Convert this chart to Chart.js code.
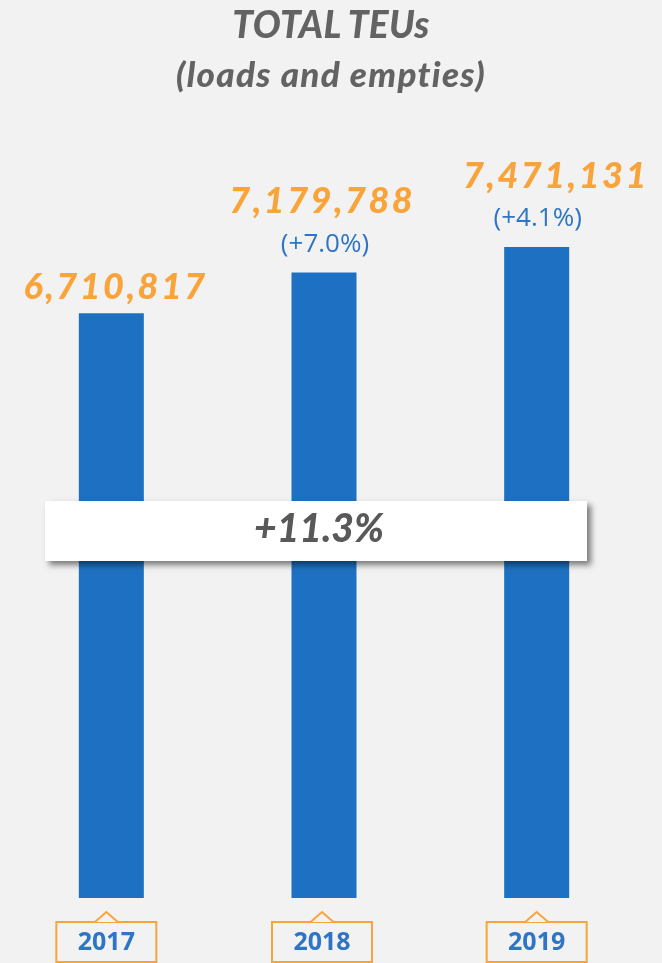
<!DOCTYPE html>
<html>
<head>
<meta charset="utf-8">
<script src="https://cdn.jsdelivr.net/npm/chart.js@4"></script>
<style>
  html, body { margin:0; padding:0; background:#f2f2f2; }
  #wrap { position:relative; width:662px; height:963px; overflow:hidden; }
  canvas { position:absolute; left:0; top:0; }
  .t1, .t2 { position:absolute; left:0; width:662px; text-align:center; color:#636363;
    font-family:Lato, 'Open Sans', sans-serif; font-weight:900; font-style:italic; white-space:nowrap; }
  .t1 { top:2px; font-size:37px; line-height:44px; letter-spacing:0.3px; }
  .t2 { top:53px; font-size:35px; line-height:40px; letter-spacing:1.3px; }
</style>
</head>
<body>
<div id="wrap">
  <canvas id="c" width="662" height="963"></canvas>
  <div class="t1">TOTAL TEUs</div>
  <div class="t2">(loads and empties)</div>
</div>
<script>
const years = ['2017', '2018', '2019'];
const teus = [6710817, 7179788, 7471131];
const valueLabels = ['6,710,817', '7,179,788', '7,471,131'];
const growthLabels = ['', '(+7.0%)', '(+4.1%)'];
const totalGrowth = '+11.3%';

const BG = '#f2f2f2';
const ORANGE = '#f9a43a';
const BLUE_TXT = '#2e75c6';

function drawSpaced(ctx, text, cx, y, spacing) {
  const ws = [...text].map(ch => ctx.measureText(ch).width);
  const total = ws.reduce((a, b) => a + b, 0) + spacing * (ws.length - 1);
  let x = cx - total / 2;
  ctx.textAlign = 'left';
  [...text].forEach((ch, i) => { ctx.fillText(ch, x, y); x += ws[i] + spacing; });
}

const decor = {
  id: 'decor',
  afterDatasetsDraw(chart, args, opts) {
    const ctx = chart.ctx;
    const meta = chart.getDatasetMeta(0);
    ctx.save();
    meta.data.forEach((bar, i) => {
      const x = bar.x, y = bar.y;
      const hasPct = growthLabels[i] !== '';
      ctx.fillStyle = ORANGE;
      ctx.font = 'italic 900 36px Lato, "Open Sans", sans-serif';
      ctx.textBaseline = 'alphabetic';
      drawSpaced(ctx, valueLabels[i], x + opts.valueDx[i], hasPct ? y - 59 : y - 14, 2.5);
      if (hasPct) {
        ctx.fillStyle = BLUE_TXT;
        ctx.font = '26px "Open Sans", sans-serif';
        ctx.textAlign = 'center';
        ctx.textBaseline = 'middle';
        ctx.fillText(growthLabels[i], x + 1, y - 28);
      }
    });
    const bottom = chart.chartArea.bottom;
    meta.data.forEach((bar, i) => {
      const cx = bar.x + opts.boxDx[i];
      const top = bottom + 24;
      ctx.fillStyle = BG;
      ctx.strokeStyle = ORANGE;
      ctx.lineWidth = 2;
      ctx.fillRect(cx - 50, top, 100, 40);
      ctx.strokeRect(cx - 50, top, 100, 40);
      ctx.beginPath();
      ctx.moveTo(cx - 11.5, top);
      ctx.lineTo(cx, top - 10);
      ctx.lineTo(cx + 11.5, top);
      ctx.fill();
      ctx.stroke();
      ctx.fillStyle = BLUE_TXT;
      ctx.font = 'bold 25px "Open Sans", sans-serif';
      ctx.textAlign = 'center';
      ctx.textBaseline = 'middle';
      ctx.fillText(years[i], cx, top + 21);
    });
    ctx.save();
    ctx.shadowColor = 'rgba(0,0,0,0.5)';
    ctx.shadowBlur = 6;
    ctx.shadowOffsetX = 4;
    ctx.shadowOffsetY = 4;
    ctx.fillStyle = '#ffffff';
    ctx.fillRect(45, 501, 542, 60);
    ctx.restore();
    ctx.fillStyle = '#595959';
    ctx.font = 'italic 900 39px Lato, "Open Sans", sans-serif';
    ctx.textAlign = 'center';
    ctx.textBaseline = 'alphabetic';
    ctx.fillText(totalGrowth, 319, 542);
    ctx.restore();
  }
};

new Chart(document.getElementById('c'), {
  type: 'bar',
  data: {
    labels: years,
    datasets: [{
      data: teus,
      backgroundColor: '#1e71c2',
      borderWidth: 0,
      barPercentage: 0.3056,
      categoryPercentage: 1
    }]
  },
  options: {
    responsive: false,
    animation: false,
    layout: { padding: { left: 5, right: 19, top: 201, bottom: 65 } },
    scales: {
      x: { display: false },
      y: { display: false, min: 0, max: 8000000 }
    },
    plugins: {
      legend: { display: false },
      tooltip: { enabled: false },
      decor: { valueDx: [3, -3, 18], boxDx: [-5, -2, 0] }
    }
  },
  plugins: [decor]
});
</script>
</body>
</html>
